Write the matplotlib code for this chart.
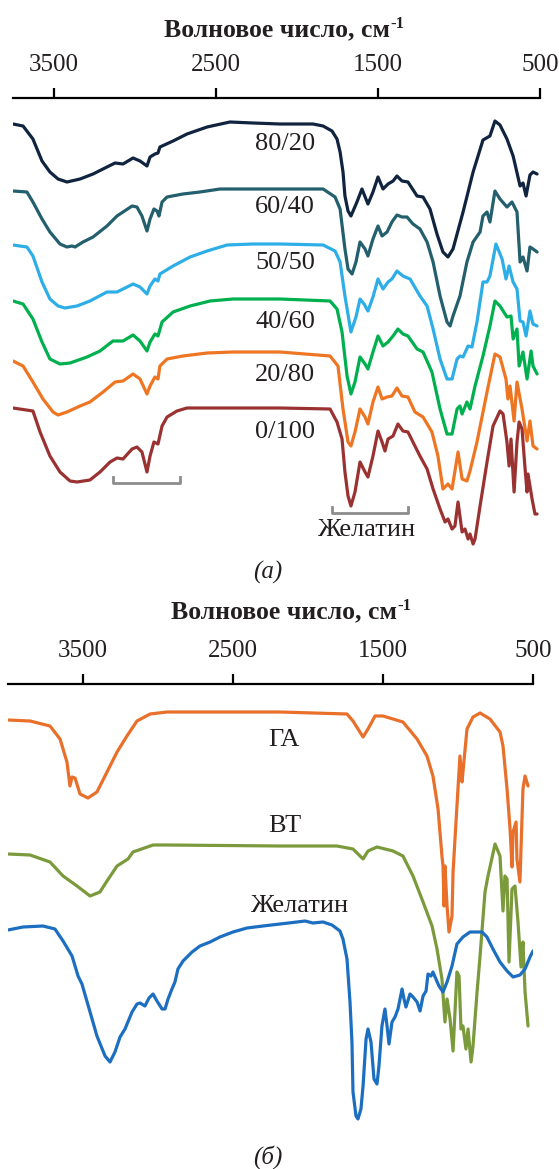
import matplotlib
matplotlib.use('Agg')
import matplotlib.pyplot as plt

plt.rcParams['font.family'] = ['Liberation Serif', 'DejaVu Serif']

# ---------------- data: panel (a) ----------------
ticks = [3500, 2500, 1500, 500]
labels_a = ['80/20', '60/40', '50/50', '40/60', '20/80', '0/100']

wn_80_20 = [3753, 3691, 3630, 3574, 3525, 3475, 3420, 3339, 3259, 3173, 3123, 3074, 3012, 2969, 2926, 2907,
            2877, 2858, 2846, 2765, 2679, 2555, 2414, 2272, 2105, 1901, 1839, 1784, 1753, 1734, 1716, 1704,
            1685, 1667, 1630, 1599, 1562, 1531, 1500, 1469, 1438, 1407, 1383, 1352, 1315, 1259, 1222, 1179,
            1136, 1099, 1068, 1037, 975, 913, 852, 809, 778, 747, 704, 666, 623, 605, 586, 562, 543, 518]
t_80_20 = [435, 433, 420, 398, 387, 380, 377, 380, 385, 392, 396, 395, 401, 398, 393, 402,
           405, 406, 412, 418, 425, 432, 437, 436, 435, 435, 433, 428, 420, 407, 387, 363,
           348, 343, 357, 370, 355, 367, 382, 370, 375, 378, 383, 378, 377, 363, 362, 350,
           325, 307, 302, 310, 347, 387, 419, 423, 438, 434, 420, 403, 373, 376, 363, 384, 387, 385]

wn_60_40 = [3753, 3667, 3630, 3574, 3525, 3463, 3420, 3389, 3370, 3321, 3259, 3173, 3111, 3074, 3018, 2988,
            2957, 2926, 2907, 2883, 2864, 2852, 2833, 2802, 2704, 2599, 2475, 2290, 2105, 1839, 1765, 1734,
            1704, 1685, 1660, 1636, 1611, 1580, 1562, 1531, 1500, 1475, 1444, 1414, 1383, 1352, 1321, 1284,
            1241, 1197, 1160, 1117, 1074, 1055, 1037, 994, 951, 913, 870, 852, 827, 809, 778, 747, 704, 673,
            642, 623, 605, 580, 562, 543, 518]
t_60_40 = [368, 367, 357, 340, 327, 315, 312, 313, 312, 317, 322, 333, 343, 347, 353, 352,
           343, 328, 340, 350, 348, 343, 357, 362, 365, 367, 370, 370, 370, 370, 362, 350,
           310, 290, 285, 297, 317, 310, 303, 320, 333, 323, 327, 337, 344, 342, 342, 335,
           330, 317, 297, 263, 237, 233, 243, 263, 297, 317, 327, 343, 347, 337, 368, 360, 352, 357,
           347, 297, 302, 288, 312, 310, 307]

wn_50_50 = [3753, 3667, 3630, 3574, 3525, 3475, 3432, 3358, 3278, 3173, 3111, 3049, 3012, 2969, 2926, 2907,
            2877, 2858, 2846, 2765, 2660, 2555, 2432, 2272, 2105, 1839, 1765, 1734, 1704, 1667, 1636, 1611,
            1586, 1562, 1531, 1500, 1469, 1438, 1414, 1383, 1346, 1302, 1241, 1197, 1160, 1117, 1074, 1043,
            1012, 994, 975, 944, 920, 889, 852, 827, 809, 772, 734, 710, 691, 666, 642, 623, 605, 586, 562,
            543, 518]
t_50_50 = [314, 312, 303, 277, 260, 253, 251, 253, 258, 267, 267, 272, 275, 272, 265, 273,
           280, 278, 285, 293, 302, 308, 314, 315, 315, 314, 308, 297, 263, 227, 242, 260,
           255, 248, 262, 280, 270, 277, 280, 288, 283, 280, 263, 253, 230, 200, 180, 180,
           200, 203, 202, 213, 212, 237, 277, 277, 283, 315, 300, 280, 293, 277, 270, 238, 237, 223, 248,
           235, 233]

wn_40_60 = [3753, 3691, 3630, 3574, 3525, 3463, 3401, 3296, 3216, 3136, 3074, 3012, 2969, 2926, 2907, 2877,
            2858, 2833, 2765, 2660, 2537, 2395, 2105, 1796, 1753, 1722, 1691, 1667, 1642, 1611, 1580, 1562,
            1531, 1500, 1469, 1438, 1407, 1377, 1346, 1315, 1259, 1222, 1167, 1117, 1074, 1043, 1012, 994,
            981, 951, 932, 901, 852, 809, 778, 747, 704, 679, 666, 642, 629, 605, 580, 555, 543, 518]
t_40_60 = [258, 255, 240, 217, 200, 195, 196, 202, 208, 218, 218, 224, 218, 208, 217, 225,
           223, 237, 247, 253, 258, 260, 260, 258, 250, 227, 183, 165, 177, 202, 195, 190,
           207, 223, 213, 217, 223, 230, 225, 223, 210, 207, 187, 150, 125, 125, 150, 153,
           145, 157, 150, 173, 203, 233, 258, 253, 242, 243, 220, 230, 193, 207, 180, 208, 193, 185]

wn_20_80 = [3753, 3691, 3630, 3568, 3506, 3475, 3420, 3339, 3278, 3197, 3123, 3074, 3012, 2969, 2926, 2907,
            2877, 2858, 2846, 2802, 2704, 2555, 2395, 2105, 1796, 1747, 1716, 1685, 1667, 1642, 1611, 1580,
            1562, 1531, 1500, 1475, 1444, 1414, 1383, 1352, 1315, 1272, 1222, 1167, 1130, 1099, 1068, 1043,
            1006, 981, 951, 932, 889, 827, 778, 747, 710, 698, 685, 660, 642, 611, 580, 562, 543, 518]
t_20_80 = [198, 193, 177, 160, 147, 144, 147, 153, 157, 167, 177, 178, 185, 180, 165, 173,
           182, 180, 193, 200, 203, 206, 207, 207, 203, 193, 150, 117, 113, 127, 150, 142,
           135, 157, 172, 160, 162, 163, 171, 163, 162, 147, 142, 127, 103, 70, 75, 70,
           107, 80, 78, 88, 117, 167, 205, 202, 180, 160, 173, 138, 177, 150, 118, 138, 113, 110]

wn_0_100 = [3753, 3630, 3586, 3525, 3463, 3401, 3358, 3278, 3216, 3154, 3111, 3074, 3018, 2988, 2957, 2926,
            2907, 2883, 2858, 2833, 2802, 2741, 2679, 2105, 1796, 1753, 1722, 1704, 1685, 1667, 1642, 1611,
            1580, 1562, 1531, 1500, 1475, 1457, 1438, 1407, 1377, 1346, 1315, 1272, 1241, 1197, 1160, 1117,
            1086, 1068, 1043, 1025, 1006, 981, 963, 944, 932, 913, 901, 870, 827, 790, 747, 728, 704, 691,
            679, 660, 642, 629, 611, 592, 580, 574, 549, 531, 518]
t_0_100 = [151, 148, 127, 103, 87, 78, 77, 79, 87, 97, 101, 100, 110, 112, 107, 87,
           103, 117, 115, 133, 142, 148, 151, 151, 150, 137, 120, 87, 63, 53, 67, 97,
           87, 82, 103, 128, 117, 108, 120, 123, 135, 128, 127, 113, 103, 90, 70, 50,
           37, 40, 30, 33, 57, 27, 30, 20, 25, 15, 20, 53, 97, 133, 148, 145, 117, 93,
           120, 67, 117, 137, 130, 90, 67, 85, 60, 45, 45]

# ---------------- data: panel (б) ----------------
labels_b = ['ГА', 'ВТ', 'Желатин']

wn_ga = [4000, 3853, 3720, 3653, 3607, 3587, 3573, 3553, 3520, 3467, 3407, 3340, 3273, 3207, 3140, 3053,
         2940, 2187, 1740, 1700, 1633, 1600, 1553, 1500, 1367, 1273, 1207, 1167, 1133, 1107, 1100, 1093,
         1087, 1073, 1060, 1040, 1033, 1007, 987, 973, 967, 940, 900, 853, 787, 720, 700, 673, 653, 640,
         633, 613, 607, 587, 567, 553, 533]
t_ga = [419, 418, 413, 400, 377, 353, 362, 361, 345, 341, 347, 367, 387, 403, 418, 425,
        427, 427, 425, 418, 402, 410, 423, 423, 417, 400, 383, 363, 330, 283, 273, 233,
        273, 233, 207, 223, 267, 333, 383, 357, 367, 410, 422, 426, 420, 407, 393, 350, 310, 272,
        307, 317, 280, 257, 350, 363, 353]

wn_bt = [4000, 3853, 3720, 3633, 3540, 3453, 3387, 3340, 3273, 3200, 3167, 3033, 2940, 2187, 1807, 1700,
         1633, 1600, 1540, 1433, 1367, 1300, 1233, 1173, 1140, 1107, 1087, 1073, 1053, 1033, 1007, 993,
         980, 967, 947, 933, 913, 900, 873, 853, 820, 800, 753, 720, 700, 687, 673, 660, 640, 620, 600,
         580, 567, 553, 533]
t_bt = [285, 284, 277, 263, 253, 243, 247, 258, 273, 280, 287, 294, 294, 293, 293, 290,
        280, 288, 292, 288, 283, 263, 237, 213, 190, 160, 117, 140, 120, 88, 167, 163,
        110, 113, 90, 110, 77, 93, 147, 183, 247, 263, 295, 283, 228, 263, 260, 177, 250, 253, 217,
        172, 197, 147, 113]

wn_gel = [4000, 3900, 3767, 3687, 3633, 3573, 3533, 3507, 3453, 3407, 3353, 3320, 3287, 3253, 3220, 3173,
          3140, 3120, 3087, 3060, 3033, 3007, 2973, 2953, 2933, 2907, 2887, 2867, 2833, 2773, 2720, 2653,
          2587, 2500, 2407, 2300, 2187, 2073, 2020, 1967, 1900, 1840, 1787, 1767, 1740, 1720, 1707, 1700,
          1680, 1667, 1647, 1633, 1613, 1600, 1580, 1560, 1540, 1527, 1507, 1487, 1473, 1460, 1440, 1420,
          1400, 1373, 1360, 1347, 1320, 1300, 1273, 1253, 1233, 1213, 1200, 1180, 1167, 1147, 1127, 1100,
          1073, 1040, 1007, 967, 920, 873, 840, 807, 767, 720, 673, 633, 587, 553, 520, 500]
t_gel = [209, 212, 213, 210, 198, 183, 163, 155, 127, 103, 83, 77, 87, 102, 110, 127,
         135, 136, 133, 141, 145, 138, 130, 130, 140, 150, 157, 170, 178, 187, 193, 197,
         202, 207, 211, 213, 215, 217, 218, 216, 217, 214, 208, 200, 180, 137, 97, 47,
         23, 20, 30, 53, 100, 110, 97, 60, 55, 73, 113, 130, 113, 95, 117, 122,
         130, 150, 140, 132, 145, 142, 137, 128, 143, 148, 165, 163, 167, 160, 153, 147,
         157, 173, 195, 202, 207, 207, 207, 202, 190, 177, 168, 162, 164, 170, 182, 188]

# ---------------- styling ----------------
colors_a = ['#102440', '#235f6c', '#2eaee6', '#00b04f', '#ee7623', '#9b3232']
colors_b = ['#e8702a', '#7b9a3b', '#1c6fc0']
TXT = '#231f20'
GREY = '#8c8c8c'

W, H = 559, 1169
fig = plt.figure(figsize=(W / 100, H / 100), dpi=100)


def rect(x0, y0, x1, y1):
    return [x0 / W, 1 - y1 / H, (x1 - x0) / W, (y1 - y0) / H]


def style_axis(ax, xlim, ylim):
    ax.set_xlim(*xlim)
    ax.set_ylim(*ylim)
    for s in ['left', 'right', 'bottom']:
        ax.spines[s].set_visible(False)
    ax.spines['top'].set_linewidth(1.6)
    ax.spines['top'].set_color('black')
    ax.xaxis.tick_top()
    ax.set_xticks(ticks)
    ax.set_xticklabels([str(t) for t in ticks])
    ax.tick_params(axis='x', direction='out', length=7, width=1.6, pad=9,
                   labelsize=18, labelcolor=TXT, colors='black')
    ax.set_yticks([])
    ax.patch.set_visible(False)


ax1 = fig.add_axes(rect(13, 98, 540, 559))
style_axis(ax1, (3753, 500), (0, 461))
series_a = [(wn_80_20, t_80_20), (wn_60_40, t_60_40), (wn_50_50, t_50_50),
            (wn_40_60, t_40_60), (wn_20_80, t_20_80), (wn_0_100, t_0_100)]
for (wn, t), c in zip(series_a, colors_a):
    ax1.plot(wn, t, color=c, lw=2.3, solid_joinstyle='round', solid_capstyle='round')

# brackets
ax1.plot([3136, 3136, 2722, 2722], [82, 76, 76, 82], color=GREY, lw=2)
ax1.plot([1784, 1784, 1315, 1315], [52, 46, 46, 52], color=GREY, lw=2)

ax2 = fig.add_axes(rect(8, 684, 533, 1139))
style_axis(ax2, (4000, 500), (0, 455))
series_b = [(wn_ga, t_ga), (wn_bt, t_bt), (wn_gel, t_gel)]
for (wn, t), c in zip(series_b, colors_b):
    ax2.plot(wn, t, color=c, lw=2.3, solid_joinstyle='round', solid_capstyle='round')


def ftext(x, y, s, **kw):
    return fig.text(x / W, 1 - y / H, s, ha='center', va='center', color=TXT, **kw)


def axis_title(xc, yc):
    main = ftext(xc - 7, yc, 'Волновое число, см', fontsize=18.5, weight='bold')
    ax1.annotate('-1', xy=(1.0, 0.78), xycoords=main, ha='left', va='center',
                 fontsize=12, weight='bold', color=TXT, annotation_clip=False)


axis_title(284, 30)
axis_title(291, 612)

label_y_a = [144, 207, 263, 322, 375, 432]
for lab, y in zip(labels_a, label_y_a):
    ftext(285, y, lab, fontsize=19)
ftext(367, 530, 'Желатин', fontsize=19)
ftext(268, 572, '(а)', fontsize=18, style='italic')

label_pos_b = [(284, 740), (285, 826), (300, 906)]
for lab, (x, y) in zip(labels_b, label_pos_b):
    ftext(x, y, lab, fontsize=19)
ftext(268, 1157, '(б)', fontsize=18, style='italic')

fig.savefig('out.png', dpi=100)
